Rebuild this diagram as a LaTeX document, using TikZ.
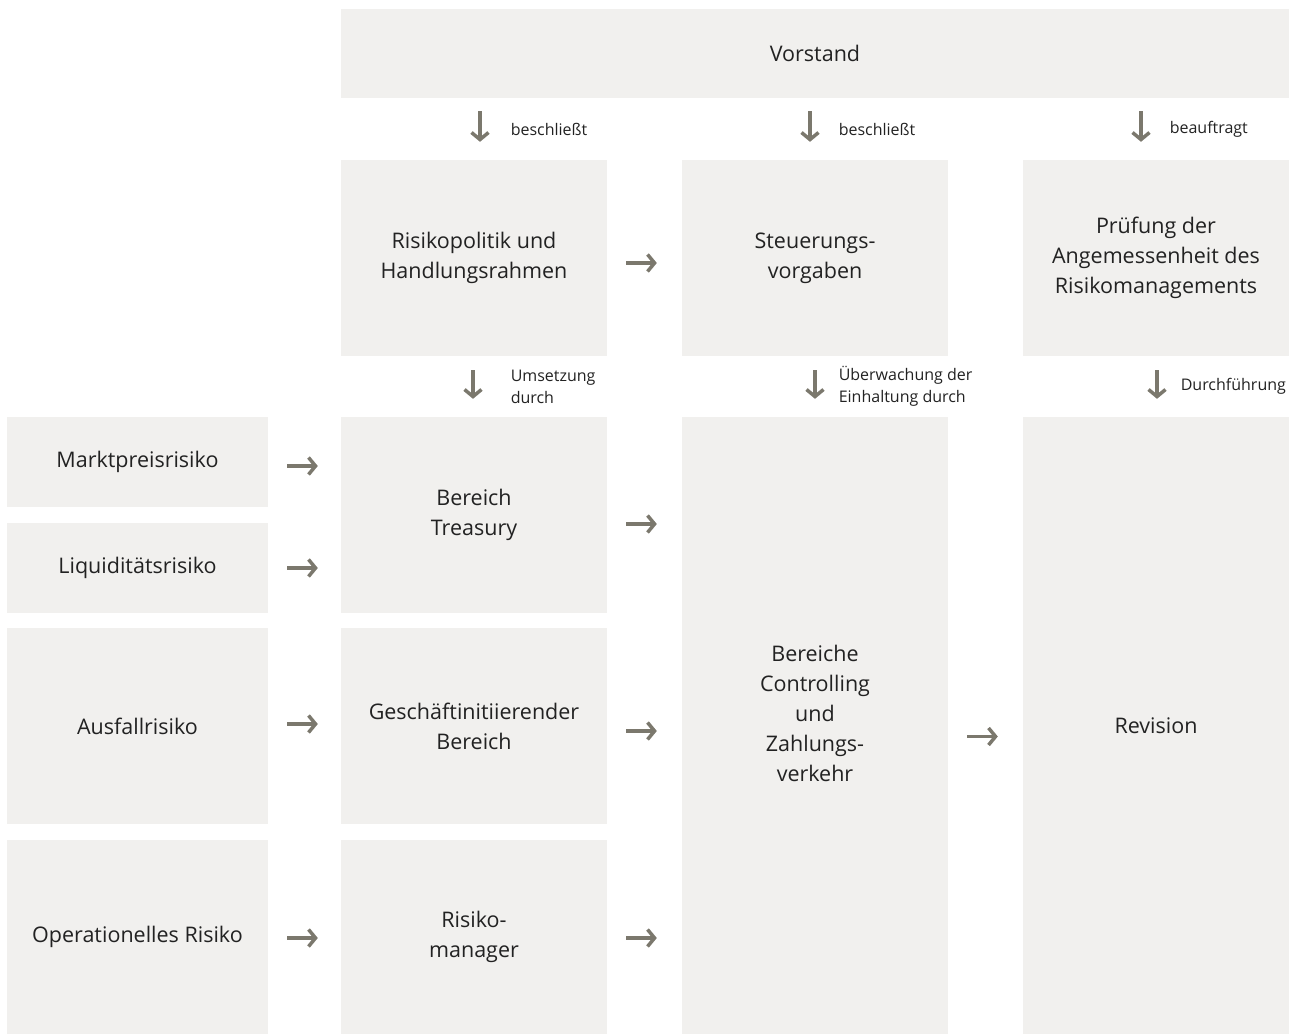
\documentclass[tikz,border=0pt]{standalone}
\usepackage{fontspec}
\setmainfont{Open Sans}
\usepackage{tikz}
\usetikzlibrary{arrows.meta,positioning,calc}

\definecolor{boxgray}{HTML}{F1F0EE}
\definecolor{arrgray}{HTML}{7B786D}
\definecolor{txtgray}{HTML}{222222}

\begin{document}
\begin{tikzpicture}[x=1pt,y=1pt,
		box/.style={fill=boxgray,draw=none,inner sep=0pt,align=center,text=txtgray,
			font=\fontsize{21.5}{30}\selectfont},
		lbl/.style={text=txtgray,align=left,inner sep=0pt,anchor=west,
			font=\fontsize{16}{22}\selectfont},
		arr/.style={draw=arrgray,line width=3.5pt,-{Straight Barb[length=7pt,width=17pt]}}]
		\useasboundingbox (0,0) rectangle (1300,1034);
		% top row
		\node[box,minimum width=948,minimum height=89] (vorstand) at (815,980.5) {Vorstand};
		\node[box,minimum width=266,minimum height=196] (politik) at (474,776) {Risikopolitik und\\Handlungsrahmen};
		\node[box,minimum width=266,minimum height=196] (vorgaben) at (815,776) {Steuerungs-\\vorgaben};
		\node[box,minimum width=266,minimum height=196] (pruefung) at (1156,776) {Prüfung der\\Angemessenheit des\\Risikomanagements};
		% risk types
		\node[box,minimum width=261,minimum height=90] (markt) at (137.5,572) {Marktpreisrisiko};
		\node[box,minimum width=261,minimum height=90] (liqui) at (137.5,466) {Liquiditätsrisiko};
		\node[box,minimum width=261,minimum height=196] (ausfall) at (137.5,308) {Ausfallrisiko};
		\node[box,minimum width=261,minimum height=194] (oprisk) at (137.5,97) {Operationelles Risiko};
		% units
		\node[box,minimum width=266,minimum height=196] (treasury) at (474,519) {Bereich\\Treasury};
		\node[box,minimum width=266,minimum height=196] (geschaeft) at (474,308) {Geschäftinitiierender\\Bereich};
		\node[box,minimum width=266,minimum height=194] (rmanager) at (474,97) {Risiko-\\manager};
		\node[box,minimum width=266,minimum height=617] (controlling) at (815,308.5) {Bereiche\\Controlling\\und\\Zahlungs-\\verkehr\\[-6pt]\mbox{}};
		\node[box,minimum width=266,minimum height=617] (revision) at (1156,308.5) {Revision};
		% down arrows
		\draw[arr,shorten <=13pt,shorten >=18pt] ([xshift=6]vorstand.south -| politik.north) -- ([xshift=6]politik.north)
			node[lbl,midway,right=29pt] {beschließt};
		\draw[arr,shorten <=13pt,shorten >=18pt] ([xshift=-5]vorstand.south -| vorgaben.north) -- ([xshift=-5]vorgaben.north)
			node[lbl,midway,right=27pt] {beschließt};
		\draw[arr,shorten <=13pt,shorten >=18pt] ([xshift=-15]vorstand.south -| pruefung.north) -- ([xshift=-15]pruefung.north)
			node[lbl,midway,right=27pt] {beauftragt};
		\draw[arr,shorten <=14pt,shorten >=18pt] ([xshift=-1]politik.south) -- ([xshift=-1]politik.south |- treasury.north)
			node[lbl,midway,right=36pt] {Umsetzung\\durch};
		\draw[arr,shorten <=14pt,shorten >=18pt] (vorgaben.south) -- (vorgaben.south |- controlling.north)
			node[lbl,midway,right=22pt] {Überwachung der\\Einhaltung durch};
		\draw[arr,shorten <=14pt,shorten >=18pt] ([xshift=1]pruefung.south) -- ([xshift=1]pruefung.south |- revision.north)
			node[lbl,midway,right=22pt] {Durchführung};
		% right arrows
		\draw[arr,shorten <=19pt,shorten >=25pt] ([yshift=-5]politik.east) -- ([yshift=-5]politik.east -| vorgaben.west);
		\draw[arr,shorten <=19pt,shorten >=23pt] ([yshift=-4]markt.east) -- ([yshift=-4]markt.east -| treasury.west);
		\draw[arr,shorten <=19pt,shorten >=23pt] (liqui.east) -- (liqui.east -| treasury.west);
		\draw[arr,shorten <=19pt,shorten >=23pt] ([yshift=2]ausfall.east) -- ([yshift=2]geschaeft.west);
		\draw[arr,shorten <=19pt,shorten >=23pt] ([yshift=-1]oprisk.east) -- ([yshift=-1]rmanager.west);
		\draw[arr,shorten <=19pt,shorten >=25pt] ([yshift=-9]treasury.east) -- ([yshift=-9]treasury.east -| controlling.west);
		\draw[arr,shorten <=19pt,shorten >=25pt] ([yshift=-5]geschaeft.east) -- ([yshift=-5]geschaeft.east -| controlling.west);
		\draw[arr,shorten <=19pt,shorten >=25pt] ([yshift=-1]rmanager.east) -- ([yshift=-1]rmanager.east -| controlling.west);
		\draw[arr,shorten <=19pt,shorten >=25pt] ([yshift=-11]controlling.east) -- ([yshift=-11]revision.west);
	\end{tikzpicture}
\end{document}
